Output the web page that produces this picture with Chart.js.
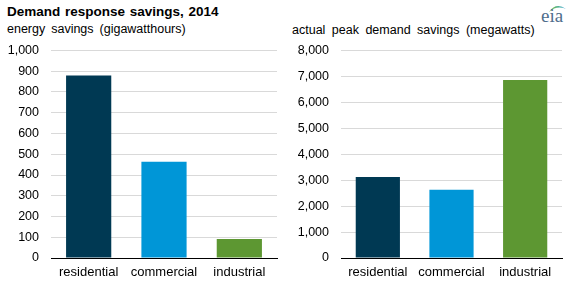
<!DOCTYPE html>
<html>
<head>
<meta charset="utf-8">
<script src="https://cdn.jsdelivr.net/npm/chart.js@4.4.1/dist/chart.umd.min.js"></script>
<style>
    body { margin: 0; background: #fff; font-family: "Liberation Sans", Arial, sans-serif; }
    #wrap { position: relative; width: 571px; height: 288px; overflow: hidden; }
    .txt { position: absolute; white-space: nowrap; color: #000; }
    #title { left: 7px; top: 4px; font-size: 13.5px; font-weight: bold; word-spacing: 1px; }
    #subLeft { left: 7px; top: 22px; font-size: 12.5px; word-spacing: 2.5px; }
    #subRight { left: 292px; top: 23px; font-size: 12.5px; word-spacing: 3px; }
    #logo { position: absolute; left: 539px; top: 1px; width: 30px; height: 28px; }
    #logo span { position: absolute; left: 2px; top: 4px; font-family: "Liberation Serif", serif; font-size: 19px; color: #4f6e8c; }
    .box { position: absolute; top: 31px; height: 257px; }
    #leftBox { left: 0; width: 290px; }
    #rightBox { left: 285px; width: 286px; }
</style>
</head>
<body>
<div id="wrap">
    <div class="txt" id="title">Demand response savings, 2014</div>
    <div class="txt" id="subLeft">energy savings (gigawatthours)</div>
    <div class="txt" id="subRight">actual peak demand savings (megawatts)</div>
    <div id="logo">
        <svg width="30" height="12" style="position:absolute;left:0;top:0">
            <defs>
                <linearGradient id="sw" x1="0" x2="1" y1="0" y2="0">
                    <stop offset="0" stop-color="#8cc63f"/>
                    <stop offset="1" stop-color="#1a9ad6"/>
                </linearGradient>
            </defs>
            <path d="M10 11 Q17 1 27 8 Q18 4 10 11 Z" fill="url(#sw)"/>
        </svg>
        <span>eia</span>
    </div>
    <div class="box" id="leftBox"><canvas id="energyChart"></canvas></div>
    <div class="box" id="rightBox"><canvas id="peakChart"></canvas></div>
</div>
<script>
const categories = ['residential', 'commercial', 'industrial'];
const energySavings = [880, 464, 91];
const peakSavings = [3120, 2630, 6860];
const barColors = ['#003953', '#0096d7', '#5d9732'];
const energyTicks = [0, 100, 200, 300, 400, 500, 600, 700, 800, 900, 1000];
const peakTicks = [0, 1000, 2000, 3000, 4000, 5000, 6000, 7000, 8000];

Chart.defaults.font.family = '"Liberation Sans", Arial, sans-serif';
Chart.defaults.color = '#000';

const makeChart = (id, values, ticks, yWidth, pad) => {
    const canvas = document.getElementById(id);
    return new Chart(canvas, {
        type: 'bar',
        data: {
            labels: categories,
            datasets: [{
                data: values,
                backgroundColor: barColors,
                borderWidth: 0,
                barPercentage: 0.6,
                categoryPercentage: 1
            }]
        },
        options: {
            responsive: true,
            maintainAspectRatio: false,
            animation: false,
            events: [],
            layout: { padding: pad },
            plugins: {
                legend: { display: false },
                tooltip: { enabled: false }
            },
            scales: {
                x: {
                    grid: { display: false, drawTicks: false },
                    border: { display: true, color: '#000', width: 1 },
                    ticks: { font: { size: 13 }, padding: 7, maxRotation: 0 },
                    afterFit: (scale) => { scale.height = 30; }
                },
                y: {
                    min: ticks[0],
                    max: ticks[ticks.length - 1],
                    afterBuildTicks: (scale) => { scale.ticks = ticks.map(v => ({ value: v })); },
                    grid: { color: '#d9d9d9', drawTicks: false },
                    border: { display: false },
                    ticks: {
                        font: { size: 12.5 },
                        padding: 12,
                        callback: (v) => v.toLocaleString('en-US')
                    },
                    afterFit: (scale) => { scale.width = yWidth; }
                }
            }
        }
    });
};

makeChart('energyChart', energySavings, energyTicks, 51, { left: 0, right: 13, top: 0, bottom: 0 });
makeChart('peakChart', peakSavings, peakTicks, 56, { left: 0, right: 9, top: 0, bottom: 0 });
</script>
</body>
</html>
